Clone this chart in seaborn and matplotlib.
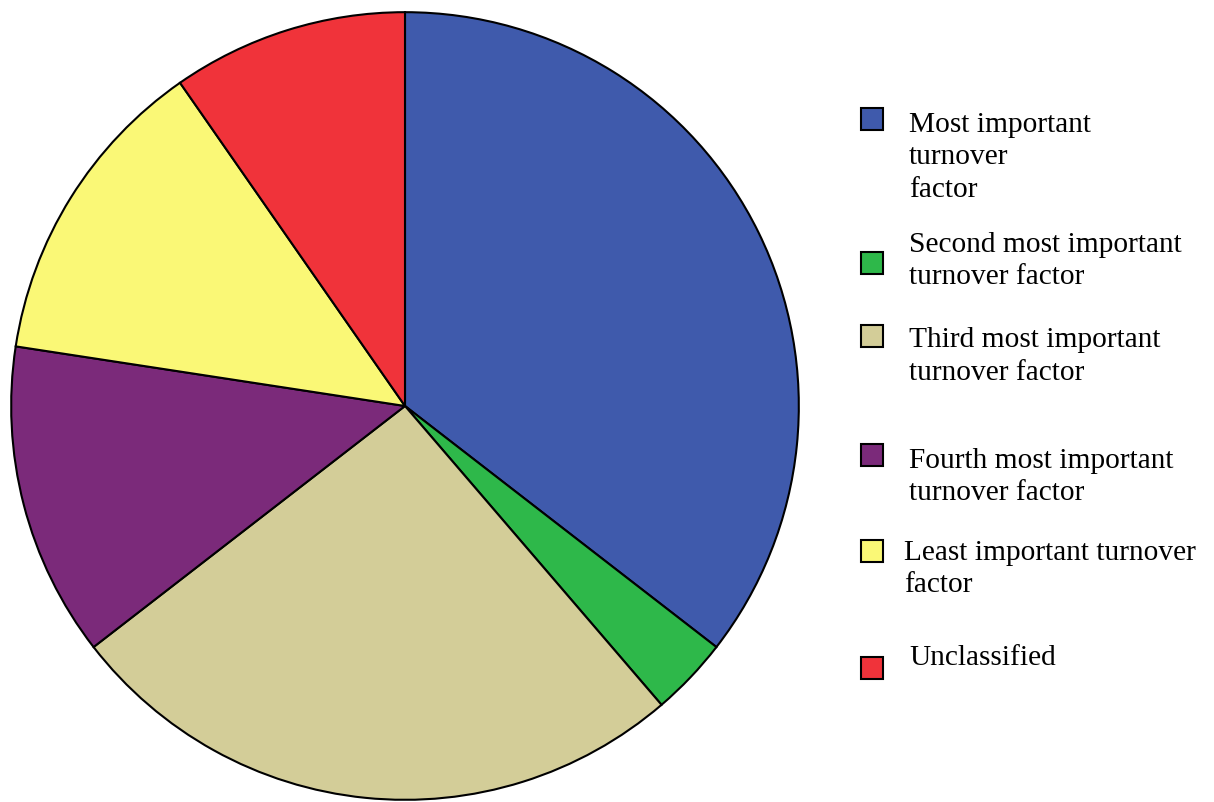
import matplotlib
matplotlib.use("Agg")
import matplotlib.pyplot as plt
import seaborn as sns

categories = [
    "Most important\nturnover\nfactor",
    "Second most important\nturnover factor",
    "Third most important\nturnover factor",
    "Fourth most important\nturnover factor",
    "Least important turnover\nfactor",
    "Unclassified",
]
counts = [11, 1, 8, 4, 4, 3]
colors = ["#3F5AAC", "#2EB84A", "#D3CD98", "#7B2A7A", "#FAF876", "#F0333A"]

sns.set_theme(style="white")
plt.rcParams["font.family"] = ["Liberation Serif", "DejaVu Serif"]

W, H = 1214, 802
fig = plt.figure(figsize=(W / 100, H / 100), dpi=100)
fig.patch.set_facecolor("white")

cx, cy, r = 405, 406, 395
ax = fig.add_axes([(cx - r) / W, (H - cy - r) / H, 2 * r / W, 2 * r / H])
ax.pie(counts, colors=colors, startangle=90, counterclock=False,
       wedgeprops=dict(edgecolor="black", linewidth=1.5))
ax.set_xlim(-1.003, 1.003)
ax.set_ylim(-1.003, 1.003)
ax.set_aspect("equal")
ax.axis("off")

# legend: square centres and first-line baselines (pixels)
sq_y = [119, 263, 336, 455, 551, 668]
txt_x = [909, 909, 909, 909, 904, 909]
txt_base = [132, 252, 347, 468, 560, 665]
line_px = 32.5
sq = 22
for lab, col, sy, tx, tb in zip(categories, colors, sq_y, txt_x, txt_base):
    fig.patches.append(plt.Rectangle((861 / W, (H - sy - sq / 2) / H), sq / W, sq / H,
                                     transform=fig.transFigure, facecolor=col,
                                     edgecolor="black", linewidth=1.5))
    last_base = tb + lab.count("\n") * line_px
    fig.text(tx / W, (H - last_base) / H, lab, ha="left", va="baseline", fontsize=21.2,
             linespacing=1.33, color="black")

fig.savefig("out.png", dpi=100, facecolor="white")
